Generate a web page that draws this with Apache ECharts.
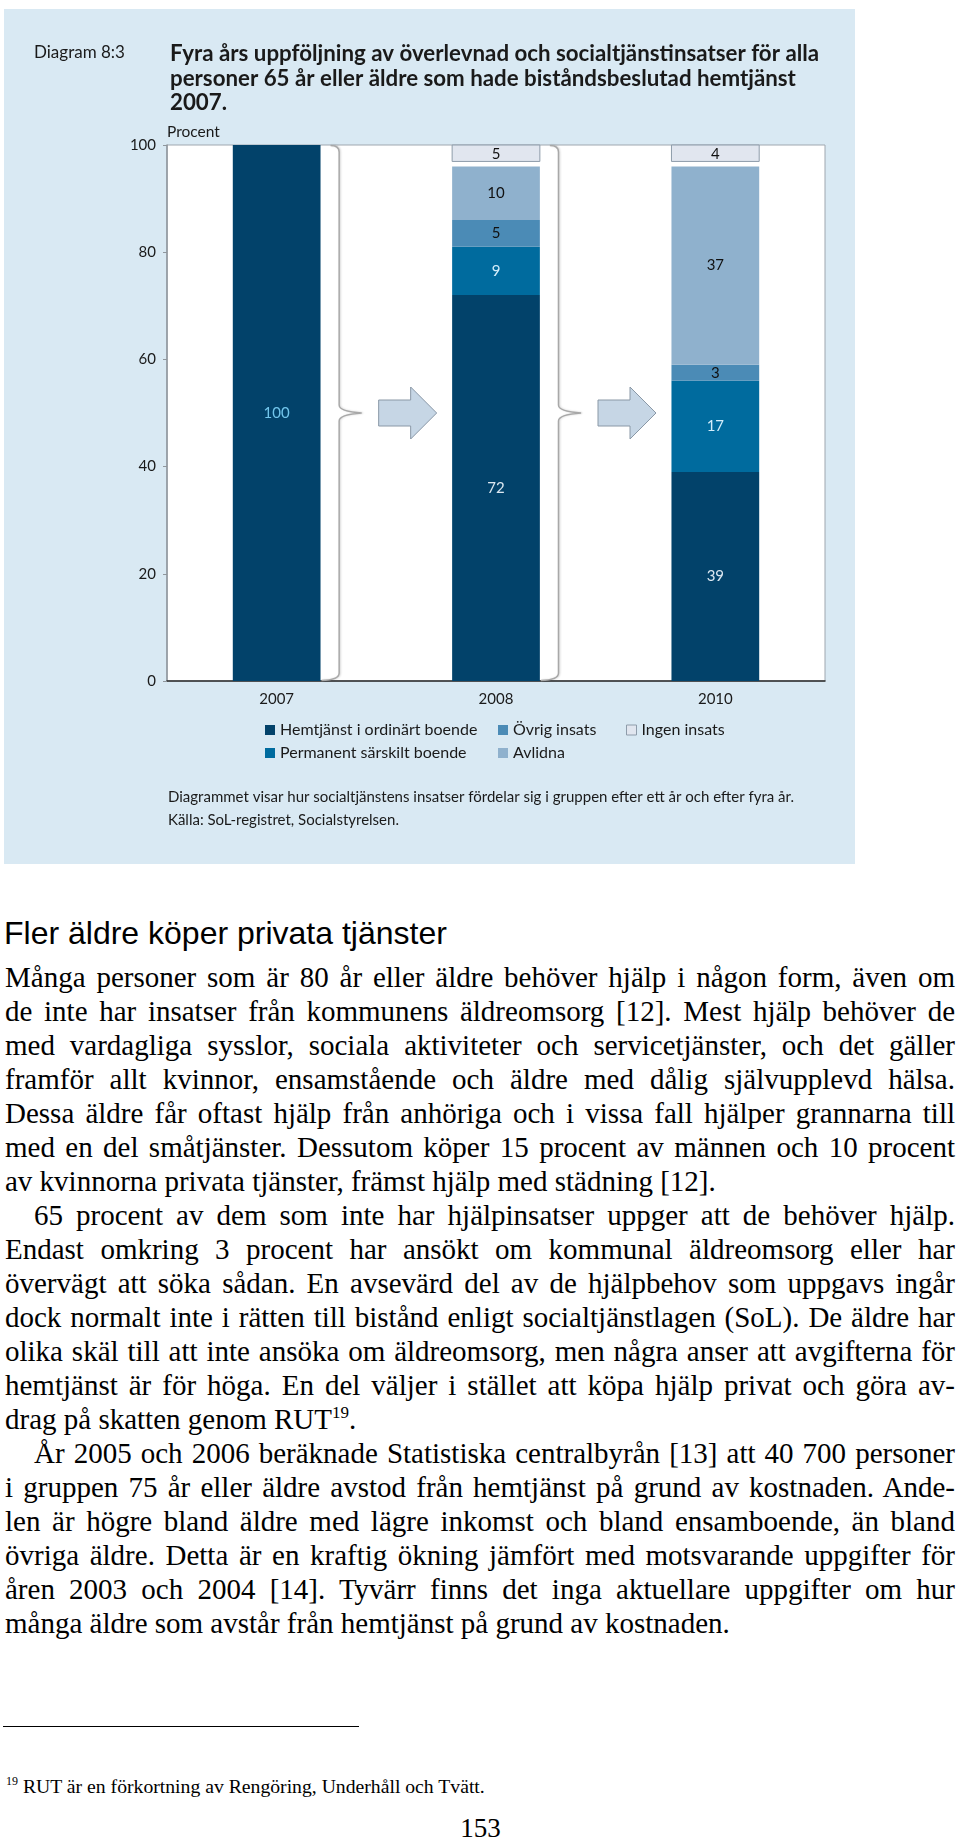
<!DOCTYPE html>
<html>
<head>
<meta charset="utf-8">
<script src="https://cdn.jsdelivr.net/npm/echarts/dist/echarts.min.js"></script>
<style>
  html, body { margin:0; padding:0; background:#fff; }
  body { width:960px; height:1839px; position:relative; overflow:hidden; }
  #chart { position:absolute; left:4px; top:9px; width:851px; height:855px; background:#d9e9f3; }
  #heading { position:absolute; left:4px; top:915px; font-family:"Liberation Sans", Arial, sans-serif; font-size:32px; line-height:36px; color:#000; white-space:nowrap; }
  #body { position:absolute; left:5px; top:960px; width:950px; font-family:"Liberation Serif", "Times New Roman", serif; font-size:29px; line-height:34px; color:#000; }
  #body div { height:34px; overflow:visible; }
  #body .j { text-align:justify; text-align-last:justify; }
  #body .l { text-align:left; }
  #body .i { padding-left:29px; }
  sup { font-size:17px; line-height:0; vertical-align:11px; }
  #rule { position:absolute; left:3px; top:1726px; width:356px; height:0; border-top:1.5px solid #000; }
  #foot { position:absolute; left:6px; top:1774px; font-family:"Liberation Serif", serif; font-size:19.7px; line-height:24px; color:#000; white-space:nowrap; }
  #foot sup { font-size:12px; vertical-align:8px; }
  #page { position:absolute; left:0; top:1812px; width:961px; text-align:center; font-family:"Liberation Serif", serif; font-size:27px; line-height:32px; color:#000; }
</style>
</head>
<body>
<div id="chart"></div>
<div id="heading">Fler äldre köper privata tjänster</div>
<div id="body">
  <div class="j">Många personer som är 80 år eller äldre behöver hjälp i någon form, även om</div>
  <div class="j">de inte har insatser från kommunens äldreomsorg [12]. Mest hjälp behöver de</div>
  <div class="j">med vardagliga sysslor, sociala aktiviteter och servicetjänster, och det gäller</div>
  <div class="j">framför allt kvinnor, ensamstående och äldre med dålig självupplevd hälsa.</div>
  <div class="j">Dessa äldre får oftast hjälp från anhöriga och i vissa fall hjälper grannarna till</div>
  <div class="j">med en del småtjänster. Dessutom köper 15 procent av männen och 10 procent</div>
  <div class="l">av kvinnorna privata tjänster, främst hjälp med städning [12].</div>
  <div class="j i">65 procent av dem som inte har hjälpinsatser uppger att de behöver hjälp.</div>
  <div class="j">Endast omkring 3 procent har ansökt om kommunal äldreomsorg eller har</div>
  <div class="j">övervägt att söka sådan. En avsevärd del av de hjälpbehov som uppgavs ingår</div>
  <div class="j">dock normalt inte i rätten till bistånd enligt socialtjänstlagen (SoL). De äldre har</div>
  <div class="j">olika skäl till att inte ansöka om äldreomsorg, men några anser att avgifterna för</div>
  <div class="j">hemtjänst är för höga. En del väljer i stället att köpa hjälp privat och göra av-</div>
  <div class="l">drag på skatten genom RUT<sup>19</sup>.</div>
  <div class="j i">År 2005 och 2006 beräknade Statistiska centralbyrån [13] att 40 700 personer</div>
  <div class="j">i gruppen 75 år eller äldre avstod från hemtjänst på grund av kostnaden. Ande-</div>
  <div class="j">len är högre bland äldre med lägre inkomst och bland ensamboende, än bland</div>
  <div class="j">övriga äldre. Detta är en kraftig ökning jämfört med motsvarande uppgifter för</div>
  <div class="j">åren 2003 och 2004 [14]. Tyvärr finns det inga aktuellare uppgifter om hur</div>
  <div class="l">många äldre som avstår från hemtjänst på grund av kostnaden.</div>
</div>
<div id="rule"></div>
<div id="foot"><sup>19</sup> RUT är en förkortning av Rengöring, Underhåll och Tvätt.</div>
<div id="page">153</div>
<script>
// ---- data ----
const categories = ['2007', '2008', '2010'];
const hemtjanst = [100, 72, 39];
const permanent = [null, 9, 17];
const ovrig     = [null, 5, 3];
const avlidna   = [null, 10, 37];
const ingen     = [null, 5, 4];
const yTickMin = 0, yTickMax = 100, yTickStep = 20;
const transitions = [0, 1]; // arrows from category index i to i+1

const seriesNames = {
  hem: 'Hemtjänst i ordinärt boende',
  perm: 'Permanent särskilt boende',
  ovr: 'Övrig insats',
  avl: 'Avlidna',
  ing: 'Ingen insats'
};

// ---- style ----
const FONT = 'Lato';
const C = { hem:'#02426a', perm:'#006b9e', ovr:'#4b8bb6', avl:'#8fb1cd', ing:'#e1e6ef', ingBorder:'#8e9caa' };

// fix any overflowing justified line
document.querySelectorAll('#body div').forEach(el => {
  let ls = 0;
  while (el.scrollHeight > 40 && ls > -2) { ls -= 0.05; el.style.letterSpacing = ls + 'px'; }
});

const chart = echarts.init(document.getElementById('chart'), null, { renderer: 'canvas' });

function stackSeries(key, values, labelColor) {
  return {
    type: 'bar', name: seriesNames[key], stack: 'total', barWidth: '40%',
    itemStyle: { color: C[key] },
    label: { show: true, position: 'inside', fontFamily: FONT, fontSize: 15, color: labelColor },
    data: values.map((v, i) => (key === 'hem' && i === 0) ? { value: v, label: { color: '#72c6ec' } } : v)
  };
}

const legendCommon = {
  padding: 0, itemWidth: 10, itemHeight: 10, itemGap: 0, icon: 'rect', selectedMode: false,
  textStyle: { fontFamily: FONT, fontSize: 16, color: '#1a1a1a', lineHeight: 16 }
};

const option = {
  animation: false,
  backgroundColor: '#d9e9f3',
  title: [
    { text: 'Diagram 8:3', left: 30, top: 34, padding: 0,
      textStyle: { fontFamily: FONT, fontWeight: 'normal', fontSize: 17, lineHeight: 20, color: '#1a1a1a' } },
    { text: 'Fyra års uppföljning av överlevnad och socialtjänstinsatser för alla\npersoner 65 år eller äldre som hade biståndsbeslutad hemtjänst\n2007.',
      left: 166, top: 33, padding: 0,
      textStyle: { fontFamily: FONT, fontWeight: 'bold', fontSize: 22.3, lineHeight: 24.5, color: '#1a1a1a' } },
    { text: 'Procent', left: 163, top: 115, padding: 0,
      textStyle: { fontFamily: FONT, fontWeight: 'normal', fontSize: 15.5, lineHeight: 16, color: '#1a1a1a' } },
    { text: 'Diagrammet visar hur socialtjänstens insatser fördelar sig i gruppen efter ett år och efter fyra år.',
      left: 164, top: 780, padding: 0,
      textStyle: { fontFamily: FONT, fontWeight: 'normal', fontSize: 15, lineHeight: 17, color: '#1a1a1a' } },
    { text: 'Källa: SoL-registret, Socialstyrelsen.',
      left: 164, top: 803, padding: 0,
      textStyle: { fontFamily: FONT, fontWeight: 'normal', fontSize: 15, lineHeight: 17, color: '#1a1a1a' } }
  ],
  legend: [
    Object.assign({ left: 261, top: 713, data: [seriesNames.hem] }, legendCommon),
    Object.assign({ left: 494, top: 713, data: [seriesNames.ovr] }, legendCommon),
    Object.assign({ left: 622, top: 713, data: [{ name: seriesNames.ing, itemStyle: { color: C.ing, borderColor: C.ingBorder, borderWidth: 1 } }] }, legendCommon),
    Object.assign({ left: 261, top: 736, data: [seriesNames.perm] }, legendCommon),
    Object.assign({ left: 494, top: 736, data: [seriesNames.avl] }, legendCommon)
  ],
  grid: { left: 163, right: 30, top: 136, bottom: 183, show: true, backgroundColor: '#ffffff', borderColor: '#9fa7af', borderWidth: 1 },
  xAxis: {
    type: 'category', data: categories,
    axisLine: { lineStyle: { color: '#2a2a2a', width: 1.5 } },
    axisTick: { show: false },
    axisLabel: { fontFamily: FONT, fontSize: 15, color: '#1a1a1a', margin: 11 }
  },
  yAxis: {
    type: 'value', min: yTickMin, max: yTickMax, interval: yTickStep,
    axisLine: { show: true, lineStyle: { color: '#8f969c', width: 1.5 } },
    axisTick: { show: true, length: 4, lineStyle: { color: '#8f969c' } },
    splitLine: { show: false },
    axisLabel: { fontFamily: FONT, fontSize: 15, color: '#1a1a1a', margin: 11 }
  },
  series: [
    stackSeries('hem', hemtjanst, '#dce8f1'),
    stackSeries('perm', permanent, '#d4eefb'),
    stackSeries('ovr', ovrig, '#111111'),
    stackSeries('avl', avlidna, '#111111'),
    {
      type: 'custom', name: seriesNames.ing,
      itemStyle: { color: C.ing, borderColor: C.ingBorder, borderWidth: 1 },
      data: ingen.map((v, i) => [i, v]).filter(d => d[1] != null),
      encode: { x: 0, y: 1 },
      renderItem: function (params, api) {
        const i = api.value(0), v = api.value(1);
        const base = (hemtjanst[i] || 0) + (permanent[i] || 0) + (ovrig[i] || 0) + (avlidna[i] || 0);
        const topVal = Math.min(yTickMax, base + v);
        const pTop = api.coord([i, topVal]);
        const pBase = api.coord([i, base]);
        const w = api.size([1, 0])[0] * 0.4;
        const x = pTop[0] - w / 2;
        const y0 = pTop[1], y1 = pBase[1] - 5;
        return { type: 'group', children: [
          { type: 'rect', shape: { x: x, y: y0, width: w, height: y1 - y0 },
            style: { fill: C.ing, stroke: C.ingBorder, lineWidth: 1 } },
          { type: 'text', style: { text: String(v), x: pTop[0], y: (y0 + y1) / 2 + 1, align: 'center', verticalAlign: 'middle',
            font: '15px ' + FONT, fill: '#111' } }
        ] };
      }
    },
    {
      type: 'custom', silent: true, legendHoverLink: false,
      data: transitions.map(i => [i, yTickMax]),
      encode: { x: 0, y: 1 },
      renderItem: function (params, api) {
        const i = api.value(0);
        const pT = api.coord([i, yTickMax]);
        const pB = api.coord([i, yTickMin]);
        const pM = api.coord([i, (yTickMax + yTickMin) / 2]);
        const cx = pT[0];
        const half = api.size([1, 0])[0] * 0.2;
        const xe = cx + half, xv = cx + 62.5, xt = cx + 85;
        const yT = pT[1], yB = pB[1], yM = pM[1];
        const brace = 'M' + (xe + 10) + ' ' + (yT + 0.5) +
          ' Q' + xv + ' ' + (yT + 0.5) + ' ' + xv + ' ' + (yT + 7) +
          ' L' + xv + ' ' + (yM - 8) +
          ' Q' + xv + ' ' + (yM - 1.5) + ' ' + xt + ' ' + yM +
          ' Q' + xv + ' ' + (yM + 1.5) + ' ' + xv + ' ' + (yM + 8) +
          ' L' + xv + ' ' + (yB - 8) +
          ' Q' + xv + ' ' + (yB - 1) + ' ' + (xe + 1) + ' ' + (yB - 0.5);
        const xa = cx + 102, xb = cx + 134, xc = cx + 160;
        return { type: 'group', children: [
          { type: 'path', shape: { pathData: brace },
            style: { fill: null, stroke: '#a8a8a8', lineWidth: 1.5, shadowColor: 'rgba(0,0,0,0.18)', shadowBlur: 2, shadowOffsetX: 1 } },
          { type: 'polygon', shape: { points: [[xa, yM - 13], [xb, yM - 13], [xb, yM - 26], [xc, yM], [xb, yM + 26], [xb, yM + 13], [xa, yM + 13]] },
            style: { fill: '#c6d6e5', stroke: '#8a98a6', lineWidth: 1 } }
        ] };
      }
    }
  ]
};
chart.setOption(option);
</script>
</body>
</html>
